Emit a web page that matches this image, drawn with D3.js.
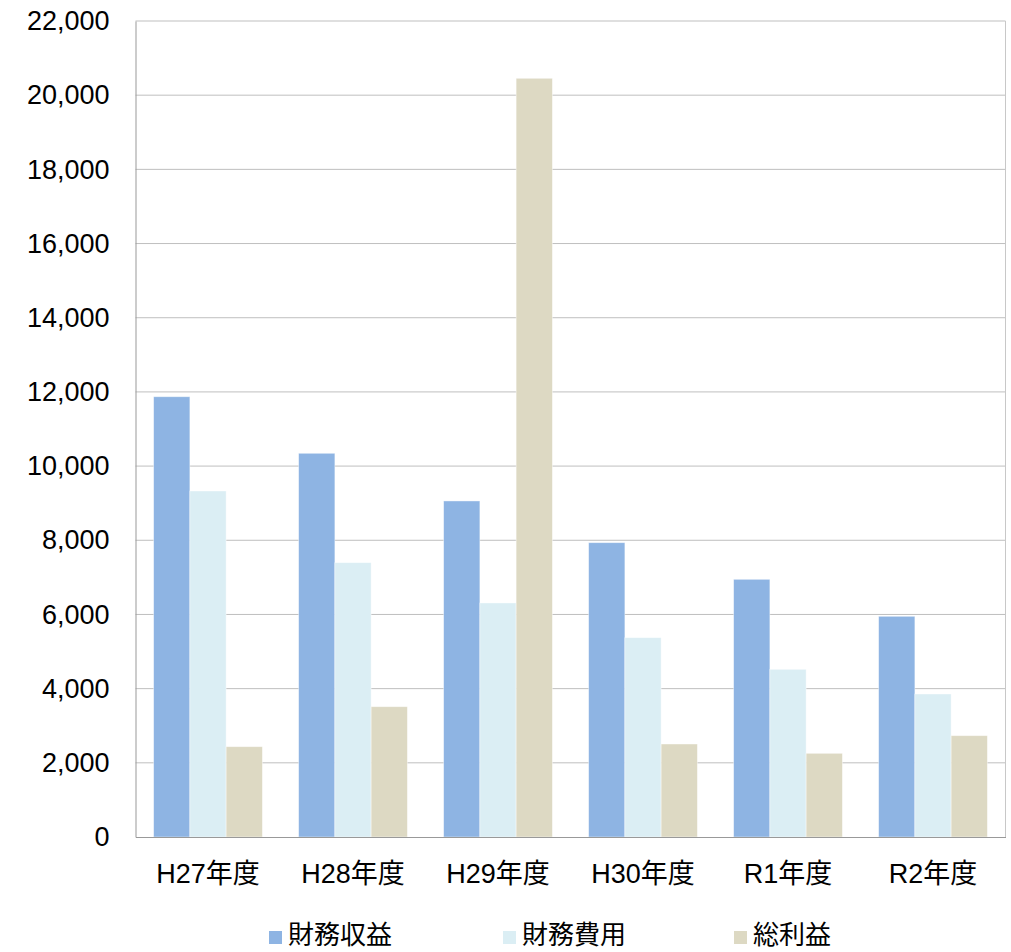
<!DOCTYPE html>
<html>
<head>
<meta charset="utf-8">
<script src="https://cdn.jsdelivr.net/npm/d3@7"></script>
<style>
  html, body { margin: 0; padding: 0; background: #fff; }
  svg { display: block; }
  text { font-family: "Liberation Sans", Arial, "Noto Sans CJK JP", sans-serif; fill: #000; }
</style>
</head>
<body>
<svg id="chart" width="1011" height="952"></svg>
<script>
// Fiscal years and the three series (unit: thousand yen)
const years = ["H27年度", "H28年度", "H29年度", "H30年度", "R1年度", "R2年度"];
const seriesNames = ["財務収益", "財務費用", "総利益"];
const financialIncome = [11870, 10345, 9060, 7935, 6947, 5950];
const financialCost = [9328, 7396, 6310, 5374, 4521, 3855];
const totalProfit = [2435, 3513, 20455, 2507, 2256, 2732];
const yTicks = [0, 2000, 4000, 6000, 8000, 10000, 12000, 14000, 16000, 18000, 20000, 22000];
const colors = ["#8eb4e3", "#dbeef4", "#ddd9c3"];

const seriesValues = [financialIncome, financialCost, totalProfit];
const svg = d3.select("#chart");
const m = { left: 135.5, right: 1005.5, top: 21, bottom: 837 };

const x = d3.scaleBand().domain(years).range([m.left, m.right]).paddingInner(0.25).paddingOuter(0.125);
const xs = d3.scaleBand().domain(seriesNames).range([0, x.bandwidth()]);
const y = d3.scaleLinear().domain([0, 22000]).range([m.bottom, m.top]);

// Horizontal gridlines
svg.append("g")
  .selectAll("line")
  .data(yTicks.filter(d => d > 0))
  .join("line")
  .attr("x1", m.left).attr("x2", m.right)
  .attr("y1", d => y(d)).attr("y2", d => y(d))
  .attr("stroke", "#bfbfbf").attr("stroke-width", 1);

// Right border of the plot
svg.append("line")
  .attr("x1", m.right).attr("x2", m.right)
  .attr("y1", m.top).attr("y2", m.bottom)
  .attr("stroke", "#c8c8c8").attr("stroke-width", 1);

// Bars
const groups = svg.append("g")
  .selectAll("g")
  .data(years)
  .join("g")
  .attr("transform", d => `translate(${x(d)},0)`);

groups.selectAll("rect")
  .data((d, i) => seriesNames.map((s, k) => ({ s, v: seriesValues[k][i], k })))
  .join("rect")
  .attr("x", d => xs(d.s))
  .attr("width", xs.bandwidth())
  .attr("y", d => y(d.v))
  .attr("height", d => y(0) - y(d.v))
  .attr("fill", d => colors[d.k])
  .attr("stroke", "rgba(255,255,255,0.5)")
  .attr("stroke-width", 0.8);

// Y axis
const yAxis = svg.append("g")
  .attr("transform", `translate(${m.left},0)`)
  .call(d3.axisLeft(y).tickValues(yTicks).tickFormat(d3.format(",")).tickSize(0).tickPadding(26));
yAxis.select(".domain").attr("stroke", "#999");
yAxis.selectAll("text").style("font-size", "27px").attr("fill", "#000");

// X axis baseline and labels
const xAxis = svg.append("g")
  .attr("transform", `translate(0,${m.bottom})`)
  .call(d3.axisBottom(x).tickSize(0).tickPadding(0));
xAxis.select(".domain").attr("stroke", "#999");
xAxis.selectAll("text")
  .attr("dy", null)
  .attr("y", 46)
  .style("font-size", "27px")
  .attr("fill", "#000");

// Legend
const legendX = [269, 503, 734];
const legend = svg.append("g")
  .selectAll("g")
  .data(seriesNames)
  .join("g")
  .attr("transform", (d, i) => `translate(${legendX[i]},931)`);
legend.append("rect")
  .attr("width", 13).attr("height", 13)
  .attr("fill", (d, i) => colors[i]);
legend.append("text")
  .attr("x", 19).attr("y", 13)
  .style("font-size", "26px")
  .text(d => d);
</script>
</body>
</html>
